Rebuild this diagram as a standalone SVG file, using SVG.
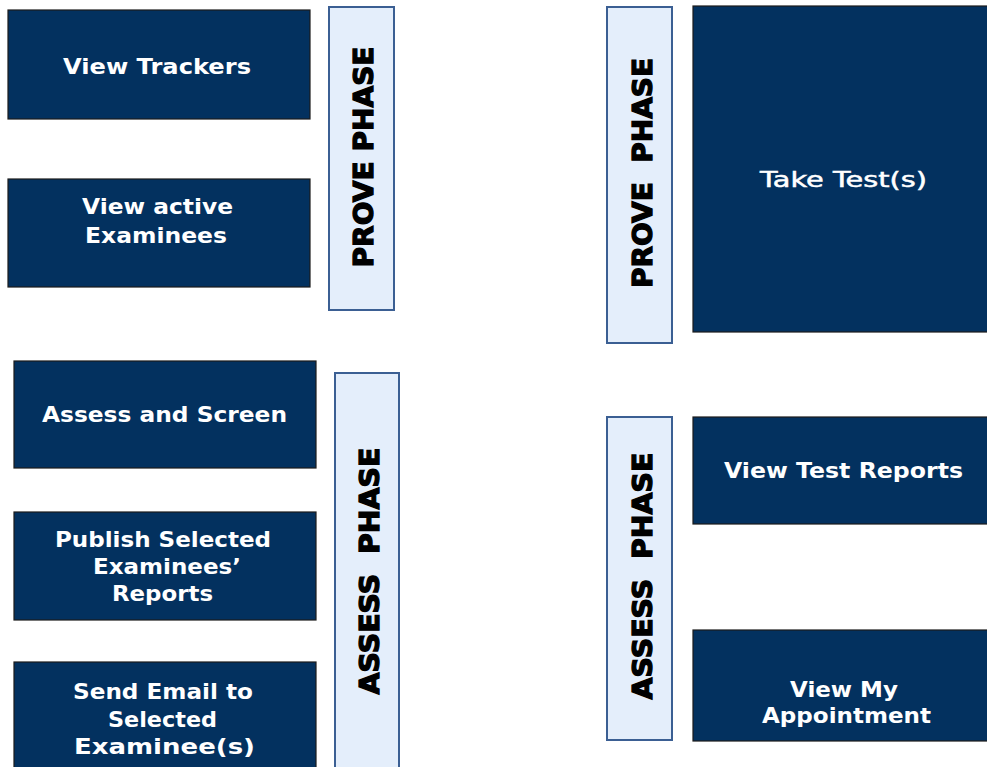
<svg xmlns="http://www.w3.org/2000/svg" width="987" height="767" viewBox="0 0 987 767">
<style>
.box{fill:#03315f;stroke:#1c1c1c;stroke-width:1.2}
.bar{fill:#e4eefb;stroke:#3b5f93;stroke-width:2}
.t{font-family:"DejaVu Sans",Verdana,sans-serif;font-weight:bold;font-size:21px;fill:#ffffff;text-anchor:middle}
.tn{font-weight:normal;stroke:#ffffff;stroke-width:0.5}
.v{font-family:"DejaVu Sans",Verdana,sans-serif;font-weight:bold;font-size:27px;fill:#000000;stroke:#000000;stroke-width:1.3;text-anchor:middle}
</style>
<rect width="987" height="767" fill="#ffffff"/>
<g id="connectors"></g>
<g id="prove-left-bar"><rect class="bar" x="329" y="7" width="65" height="303"/>
<text class="v" transform="translate(373,157) rotate(-90)" textLength="221" lengthAdjust="spacingAndGlyphs">PROVE PHASE</text></g>
<g id="assess-left-bar"><rect class="bar" x="335" y="373" width="64" height="400"/>
<text class="v" transform="translate(379,571) rotate(-90)" textLength="247" lengthAdjust="spacingAndGlyphs">ASSESS&#160;&#160;PHASE</text></g>
<g id="prove-right-bar"><rect class="bar" x="607" y="7" width="65" height="336"/>
<text class="v" transform="translate(652,173) rotate(-90)" textLength="230" lengthAdjust="spacingAndGlyphs">PROVE&#160;&#160;PHASE</text></g>
<g id="assess-right-bar"><rect class="bar" x="607" y="417" width="65" height="323"/>
<text class="v" transform="translate(652,576) rotate(-90)" textLength="247" lengthAdjust="spacingAndGlyphs">ASSESS&#160;&#160;PHASE</text></g>
<g id="view-trackers"><rect class="box" x="8" y="10" width="302" height="109"/>
<text class="t" x="157" y="74" textLength="188" lengthAdjust="spacingAndGlyphs">View Trackers</text></g>
<g id="view-active-examinees"><rect class="box" x="8" y="179" width="302" height="108"/>
<text class="t" x="157.5" y="214" textLength="151" lengthAdjust="spacingAndGlyphs">View active</text>
<text class="t" x="156" y="243" textLength="142" lengthAdjust="spacingAndGlyphs">Examinees</text></g>
<g id="assess-and-screen"><rect class="box" x="14" y="361" width="302" height="107"/>
<text class="t" x="164.5" y="422" textLength="245" lengthAdjust="spacingAndGlyphs">Assess and Screen</text></g>
<g id="publish-reports"><rect class="box" x="14" y="512" width="302" height="108"/>
<text class="t" x="163" y="547" textLength="216" lengthAdjust="spacingAndGlyphs">Publish Selected</text>
<text class="t" x="167" y="574" textLength="148" lengthAdjust="spacingAndGlyphs">Examinees’</text>
<text class="t" x="162.5" y="601" textLength="101" lengthAdjust="spacingAndGlyphs">Reports</text></g>
<g id="send-email"><rect class="box" x="14" y="662" width="302" height="115"/>
<text class="t" x="163" y="699" textLength="180" lengthAdjust="spacingAndGlyphs">Send Email to</text>
<text class="t" x="162.5" y="727" textLength="109" lengthAdjust="spacingAndGlyphs">Selected</text>
<text class="t" x="164.5" y="754" textLength="181" lengthAdjust="spacingAndGlyphs">Examinee(s)</text></g>
<g id="take-tests"><rect class="box" x="693" y="6" width="302" height="326"/>
<text class="t tn" x="843.5" y="187" textLength="167" lengthAdjust="spacingAndGlyphs">Take Test(s)</text></g>
<g id="view-test-reports"><rect class="box" x="693" y="417" width="302" height="107"/>
<text class="t" x="843.5" y="478" textLength="239" lengthAdjust="spacingAndGlyphs">View Test Reports</text></g>
<g id="view-my-appointment"><rect class="box" x="693" y="630" width="302" height="111"/>
<text class="t" x="844" y="697" textLength="108" lengthAdjust="spacingAndGlyphs">View My</text>
<text class="t" x="846.5" y="723" textLength="169" lengthAdjust="spacingAndGlyphs">Appointment</text></g>
</svg>
